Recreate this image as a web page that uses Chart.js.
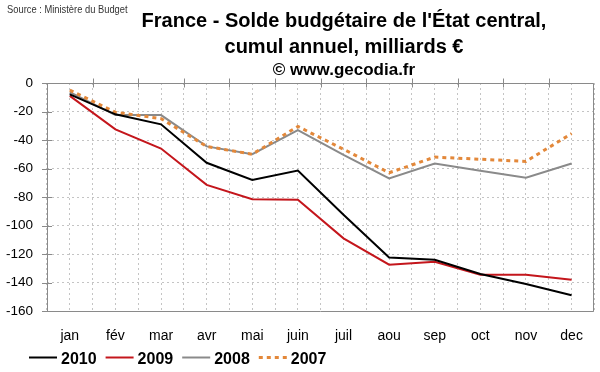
<!DOCTYPE html>
<html>
<head>
<meta charset="utf-8">
<script src="https://cdn.jsdelivr.net/npm/chart.js@4"></script>
<style>
html, body { margin: 0; padding: 0; background: #fff; }
canvas { display: block; }
</style>
</head>
<body>
<canvas id="chart" width="600" height="372"></canvas>
<script>
const months = ['jan', 'fév', 'mar', 'avr', 'mai', 'juin', 'juil', 'aou', 'sep', 'oct', 'nov', 'dec'];
const seriesNames = ['2010', '2009', '2008', '2007'];
const solde2010 = [-8, -22, -29, -56, -68, -61.5, -92.5, -122.5, -124, -134, -141, -149];
const solde2009 = [-9, -32.5, -46, -71.5, -81.5, -82, -109, -127.5, -125.5, -134.5, -134.5, -138];
const solde2008 = [-6.5, -22.5, -22.5, -44.5, -50, -33, -50.5, -67, -56.5, -61.5, -66.5, -56.5];
const solde2007 = [-5, -20.5, -25, -44.5, -50, -30.5, -46.5, -63, -52, -53.5, -55, -35.5];
const yMin = -160, yMax = 0, yStep = 20;

const titleLines = ["France - Solde budgétaire de l'État central,", "cumul annuel, milliards €", "© www.gecodia.fr"];
const sourceText = "Source : Ministère du Budget";

const FONT = '"Liberation Sans", Arial, sans-serif';
const axisColor = '#8a8a8a';
const gridColor = '#c4c4c4';

// title, frame, crossing ticks and legend
const decorPlugin = {
    id: 'decor',
    beforeDatasetsDraw(chart) {
        const ctx = chart.ctx;
        const area = chart.chartArea;
        const xs = chart.scales.x;
        const ys = chart.scales.y;
        const y0 = Math.round(ys.getPixelForValue(0)) + 0.5;
        ctx.save();
        ctx.strokeStyle = axisColor;
        ctx.lineWidth = 1;
        ctx.beginPath();
        ctx.rect(Math.round(area.left) + 0.5, Math.round(area.top) + 0.5,
            Math.round(area.right - area.left) - 1, Math.round(area.bottom - area.top));
        ctx.stroke();
        ctx.beginPath();
        // y ticks cross the axis
        for (let v = yMin; v <= yMax; v += yStep) {
            const py = Math.round(ys.getPixelForValue(v)) + 0.5;
            ctx.moveTo(area.left - 5, py);
            ctx.lineTo(area.left + 5, py);
        }
        // x ticks at month boundaries on the zero line
        const half = (xs.getPixelForValue(1) - xs.getPixelForValue(0)) / 2;
        for (let i = 1; i < months.length; i++) {
            const px = Math.round(xs.getPixelForValue(i) - half) + 0.5;
            ctx.moveTo(px, y0 - 5);
            ctx.lineTo(px, y0 + 4);
        }
        ctx.stroke();
        ctx.restore();
    },
    afterDraw(chart) {
        const ctx = chart.ctx;
        ctx.save();
        ctx.fillStyle = '#000';
        ctx.textAlign = 'center';
        ctx.textBaseline = 'alphabetic';
        ctx.font = 'bold 20px ' + FONT;
        ctx.fillText(titleLines[0], 344, 27);
        ctx.fillText(titleLines[1], 344, 53);
        ctx.font = 'bold 17px ' + FONT;
        ctx.fillText(titleLines[2], 344, 75);

        ctx.save();
        ctx.translate(7, 13);
        ctx.scale(0.85, 1);
        ctx.textAlign = 'left';
        ctx.font = '11px ' + FONT;
        ctx.fillStyle = '#333';
        ctx.fillText(sourceText, 0, 0);
        ctx.restore();

        // legend
        ctx.textAlign = 'left';
        ctx.font = 'bold 16px ' + FONT;
        let x = 29;
        chart.data.datasets.slice().sort((a, b) => seriesNames.indexOf(a.label) - seriesNames.indexOf(b.label)).forEach(ds => {
            ctx.save();
            ctx.strokeStyle = ds.borderColor;
            ctx.lineWidth = ds.borderDash ? 3 : 2;
            ctx.setLineDash(ds.borderDash || []);
            ctx.beginPath();
            ctx.moveTo(x, 357.5);
            ctx.lineTo(x + 28, 357.5);
            ctx.stroke();
            ctx.restore();
            ctx.fillText(ds.label, x + 32, 364);
            x += 32 + ctx.measureText(ds.label).width + 9;
        });
        ctx.restore();
    }
};

const chart = new Chart(document.getElementById('chart').getContext('2d'), {
    type: 'line',
    data: {
        labels: months,
        datasets: [
            { label: seriesNames[0], data: solde2010, borderColor: '#000000', borderWidth: 2, order: 0 },
            { label: seriesNames[1], data: solde2009, borderColor: '#c4161c', borderWidth: 2, order: 1 },
            { label: seriesNames[2], data: solde2008, borderColor: '#8a8a8a', borderWidth: 2, order: 3 },
            { label: seriesNames[3], data: solde2007, borderColor: '#e3883a', borderWidth: 3, borderDash: [4, 4], order: 2 }
        ]
    },
    options: {
        responsive: false,
        animation: false,
        devicePixelRatio: 1,
        layout: { padding: { left: 0, right: 3, top: 83, bottom: 0 } },
        elements: {
            point: { radius: 0 },
            line: { tension: 0, fill: false, borderCapStyle: 'butt' }
        },
        plugins: {
            legend: { display: false },
            tooltip: { enabled: false }
        },
        scales: {
            x: {
                type: 'category',
                position: 'bottom',
                offset: true,
                grid: { offset: false, color: gridColor, drawTicks: false },
                border: { display: false, dash: [2, 3] },
                ticks: { padding: 17, color: '#000', font: { family: FONT, size: 14 }, maxRotation: 0, autoSkip: false },
                afterFit(scale) { scale.height = 61; }
            },
            x2: {
                type: 'category',
                position: 'bottom',
                offset: true,
                grid: { offset: true, color: gridColor, drawTicks: false },
                border: { display: false, dash: [2, 3] },
                ticks: { display: false },
                afterFit(scale) { scale.height = 0; }
            },
            y: {
                min: yMin,
                max: yMax,
                grid: { color: gridColor, drawTicks: false },
                border: { display: false, dash: [2, 3] },
                ticks: { stepSize: yStep, padding: 14, color: '#000', font: { family: FONT, size: 13.5 } },
                afterFit(scale) { scale.width = 47; }
            }
        }
    },
    plugins: [decorPlugin]
});
</script>
</body>
</html>
